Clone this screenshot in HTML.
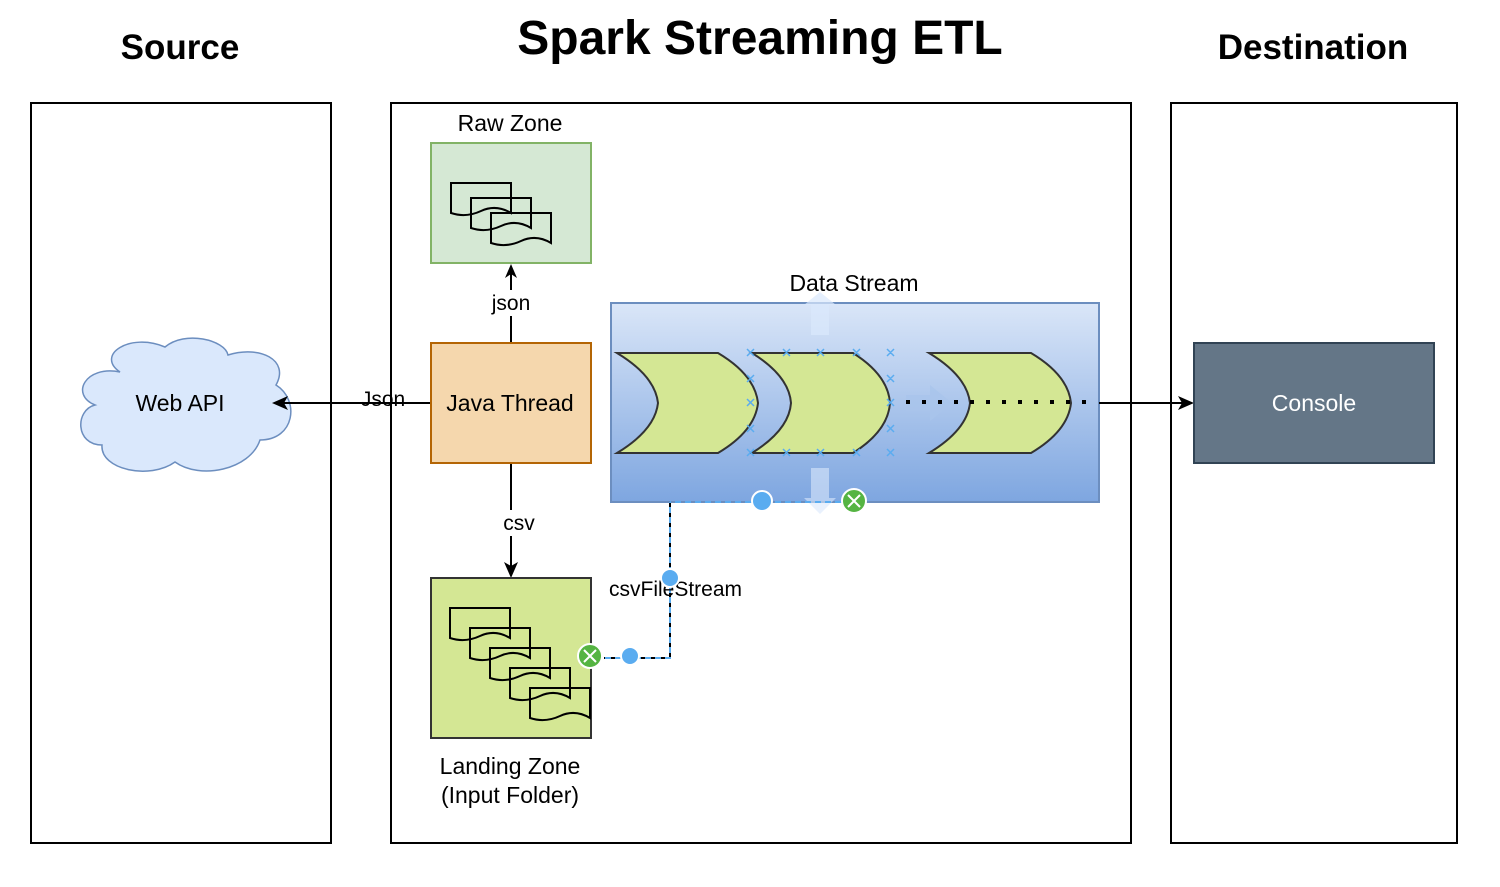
<!DOCTYPE html>
<html><head><meta charset="utf-8"><style>
body{margin:0;background:#fff;}
svg text{font-family:"Liberation Sans",Arial,sans-serif;}
</style></head><body>
<svg width="1500" height="882" viewBox="0 0 1500 882" xmlns="http://www.w3.org/2000/svg">
<defs>
<linearGradient id="g" x1="0" y1="0" x2="0" y2="1"><stop offset="0" stop-color="#dae6f8"/><stop offset="1" stop-color="#7ea6e0"/></linearGradient>
<path id="doc" d="M0 0H60V30Q45 21 30 28T0 30Z" fill="none" stroke="#000" stroke-width="2"/>
<clipPath id="lc"><rect x="431" y="578" width="160" height="160"/></clipPath>
</defs>
<text x="180" y="59" font-size="35" font-weight="bold" text-anchor="middle">Source</text>
<text x="760" y="54" font-size="48" font-weight="bold" text-anchor="middle">Spark Streaming ETL</text>
<text x="1313" y="59" font-size="35" font-weight="bold" text-anchor="middle">Destination</text>
<rect x="31" y="103" width="300" height="740" fill="none" stroke="#000" stroke-width="2"/>
<rect x="391" y="103" width="740" height="740" fill="none" stroke="#000" stroke-width="2"/>
<rect x="1171" y="103" width="286" height="740" fill="none" stroke="#000" stroke-width="2"/>
<!-- cloud -->
<path d="M120 372 C95 355 130 332 165 347 C185 330 225 340 228 355 C260 345 290 360 276 385 C300 400 295 440 260 440 C250 470 200 480 175 462 C150 480 100 470 102 445 C75 445 75 410 95 405 C70 395 85 365 120 372Z" fill="#dae8fc" stroke="#6c8ebf" stroke-width="1.5"/>
<text x="180" y="411" font-size="23" text-anchor="middle">Web API</text>
<!-- raw zone -->
<text x="510" y="131" font-size="23" text-anchor="middle">Raw Zone</text>
<rect x="431" y="143" width="160" height="120" fill="#d5e8d4" stroke="#82b366" stroke-width="2"/>
<use href="#doc" x="451" y="183"/><use href="#doc" x="471" y="198"/><use href="#doc" x="491" y="213"/>
<!-- java thread -->
<line x1="511" y1="343" x2="511" y2="270" stroke="#000" stroke-width="2"/>
<path d="M511 264 L505 278 L511 274 L517 278Z" fill="#000"/>
<rect x="495" y="290" width="32" height="26" fill="#fff"/>
<text x="511" y="310" font-size="21" text-anchor="middle">json</text>
<line x1="431" y1="403" x2="282" y2="403" stroke="#000" stroke-width="2"/>
<path d="M272 403 L288 396 L284 403 L288 410Z" fill="#000"/>
<text x="383" y="406" font-size="21" text-anchor="middle">Json</text>
<line x1="511" y1="463" x2="511" y2="570" stroke="#000" stroke-width="2"/>
<path d="M511 578 L504 562 L511 566 L518 562Z" fill="#000"/>
<rect x="498" y="510" width="40" height="26" fill="#fff"/>
<text x="519" y="530" font-size="21" text-anchor="middle">csv</text>
<rect x="431" y="343" width="160" height="120" fill="#f5d7ad" stroke="#b46504" stroke-width="2"/>
<text x="510" y="411" font-size="23" text-anchor="middle">Java Thread</text>
<!-- landing -->
<rect x="431" y="578" width="160" height="160" fill="#d4e794" stroke="#333" stroke-width="2"/>
<g clip-path="url(#lc)"><use href="#doc" x="450" y="608"/><use href="#doc" x="470" y="628"/><use href="#doc" x="490" y="648"/><use href="#doc" x="510" y="668"/><use href="#doc" x="530" y="688"/></g>
<text x="510" y="774" font-size="23" text-anchor="middle">Landing Zone</text>
<text x="510" y="803" font-size="23" text-anchor="middle">(Input Folder)</text>
<!-- data stream -->
<text x="854" y="291" font-size="23" text-anchor="middle">Data Stream</text>
<rect x="611" y="303" width="488" height="199" fill="url(#g)" stroke="#6c8ebf" stroke-width="2"/>
<path d="M811 335V305H804L820 292L836 305H829V335Z" fill="#dae8fc" opacity="0.7"/>
<path d="M811 468V498H804L820 514L836 498H829V468Z" fill="#dae8fc" opacity="0.6"/>
<g fill="#d4e794" stroke="#333" stroke-width="2">
<path d="M617 353H718Q755 375 758 403Q755 431 718 453H617Q655 430 658 403Q655 376 617 353Z"/>
<path d="M752 353H853Q888 375 890 403Q888 431 853 453H752Q789 430 791 403Q789 376 752 353Z"/>
<path d="M929 353H1031Q1068 375 1071 403Q1068 431 1031 453H929Q967 430 970 403Q967 376 929 353Z"/>
</g>
<path d="M906 395H930V385L952 403L930 421V411H906Z" fill="#a9c4eb" opacity="0.8"/>
<line x1="906" y1="402" x2="1090" y2="402" stroke="#000" stroke-width="4" stroke-dasharray="4 12"/>
<line x1="1099" y1="403" x2="1184" y2="403" stroke="#000" stroke-width="2"/>
<path d="M1194 403 L1178 396 L1182 403 L1178 410Z" fill="#000"/>
<g stroke="#5aacf0" stroke-width="1.5">
<path d="M747 349l7 7m0-7l-7 7M783 349l7 7m0-7l-7 7M817 349l7 7m0-7l-7 7M853 349l7 7m0-7l-7 7M887 349l7 7m0-7l-7 7M747 375l7 7m0-7l-7 7M747 399l7 7m0-7l-7 7M747 425l7 7m0-7l-7 7M747 449l7 7m0-7l-7 7M783 449l7 7m0-7l-7 7M817 449l7 7m0-7l-7 7M853 449l7 7m0-7l-7 7M887 449l7 7m0-7l-7 7M887 375l7 7m0-7l-7 7M887 399l7 7m0-7l-7 7M887 425l7 7m0-7l-7 7"/>
</g>
<!-- csvFileStream connector -->
<path d="M670 502V658H604" fill="none" stroke="#000" stroke-width="2" stroke-dasharray="6 4"/>
<path d="M670 502H854M670 502V658H604" fill="none" stroke="#5aacf0" stroke-width="2" stroke-dasharray="6 4" stroke-dashoffset="5"/>
<text x="609" y="596" font-size="21">csvFileStream</text>
<circle cx="670" cy="578" r="9" fill="#5aacf0" stroke="#fff" stroke-width="2"/>
<circle cx="762" cy="501" r="10" fill="#5aacf0" stroke="#fff" stroke-width="2"/>
<circle cx="630" cy="656" r="9" fill="#5aacf0" stroke="#fff" stroke-width="2"/>
<circle cx="854" cy="501" r="12" fill="#55b442" stroke="#fff" stroke-width="2"/>
<path d="M848 495l12 12m0-12l-12 12" stroke="#fff" stroke-width="2"/>
<circle cx="590" cy="656" r="12" fill="#55b442" stroke="#fff" stroke-width="2"/>
<path d="M584 650l12 12m0-12l-12 12" stroke="#fff" stroke-width="2"/>
<!-- console -->
<rect x="1194" y="343" width="240" height="120" fill="#647687" stroke="#314354" stroke-width="2"/>
<text x="1314" y="411" font-size="23" fill="#fff" text-anchor="middle">Console</text>
</svg>
</body></html>
